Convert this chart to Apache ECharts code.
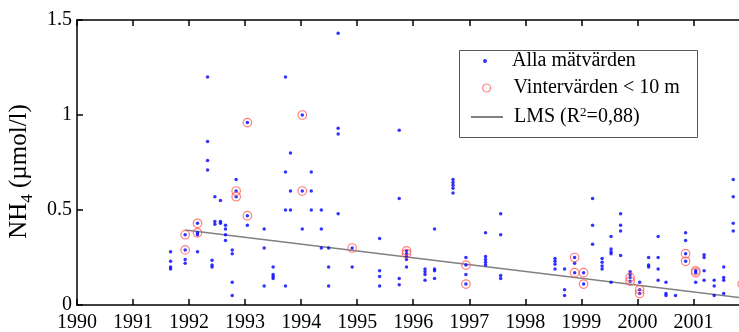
<!DOCTYPE html>
<html><head><meta charset="utf-8">
<script src="https://cdn.jsdelivr.net/npm/echarts@6/dist/echarts.min.js"></script>
<style>html,body{margin:0;padding:0;background:#fff}#c{width:739px;height:332px}</style>
</head><body><div id="c"></div>
<script>
// Sampling dates (decimal years) and all measured NH4 values at each date
const sampleYears = [1991.67,1991.93,1992.15,1992.33,1992.41,1992.46,1992.56,1992.65,1992.77,1992.84,
  1993.04,1993.34,1993.50,1993.72,1993.81,1994.02,1994.18,1994.36,1994.49,1994.66,1994.91,
  1995.40,1995.75,1995.88,1996.21,1996.38,1996.71,1996.94,1997.29,1997.56,
  1998.53,1998.70,1998.88,1999.04,1999.20,1999.37,1999.53,1999.70,1999.87,
  2000.04,2000.20,2000.37,2000.51,2000.68,2000.86,2001.04,2001.19,2001.37,2001.54,2001.71];
const sampleValues = [
  [0.28,0.23,0.20,0.19],[0.37,0.29,0.24,0.22],[0.43,0.38,0.37,0.28],[1.20,0.86,0.76,0.71],
  [0.235,0.21,0.20],[0.57,0.44,0.425],[0.55,0.44,0.43],[0.42,0.40,0.37,0.34],[0.29,0.27,0.12,0.05],
  [0.66,0.60,0.57],[0.96,0.47,0.42],[0.40,0.30,0.10],[0.20,0.16,0.15,0.14],[1.20,0.70,0.50,0.10],
  [0.80,0.60,0.50],[1.00,0.60,0.40],[0.70,0.60,0.50],[0.50,0.40,0.30],[0.30,0.20,0.10],
  [1.43,0.93,0.90,0.48],[0.30,0.20],
  [0.35,0.18,0.15,0.10],[0.92,0.56,0.14,0.107],[0.285,0.27,0.255,0.24,0.20],[0.19,0.175,0.16,0.13],
  [0.40,0.19,0.18,0.14],[0.66,0.645,0.63,0.615,0.59],[0.25,0.21,0.16,0.11],[0.38,0.255,0.24,0.225,0.21],
  [0.48,0.37,0.155,0.14],
  [0.245,0.23,0.215,0.19],[0.19,0.08,0.05],[0.25,0.22,0.17],[0.17,0.11],[0.56,0.42,0.32],
  [0.245,0.225,0.205,0.19],[0.36,0.295,0.28,0.27,0.12],[0.48,0.42,0.39,0.26],[0.175,0.16,0.145,0.125],
  [0.12,0.08,0.06],[0.25,0.21,0.20],[0.36,0.25,0.19,0.13],[0.12,0.06,0.05],[0.05],[0.38,0.34,0.27,0.23],
  [0.18,0.17,0.12],[0.265,0.25,0.18,0.13],[0.13,0.10,0.05],[0.20,0.145,0.13,0.06],[0.66,0.57,0.43,0.39]
];
// Winter values (< 10 m)
const winterYears = [1991.93,1992.15,1992.84,1993.04,1994.02,1994.91,1995.88,1996.94,1998.88,1999.04,1999.87,2000.04,2000.86,2001.04,2001.87];
const winterValues = [[0.37,0.29],[0.43,0.38],[0.60,0.57],[0.96,0.47],[1.00,0.60],[0.30],[0.285,0.27],[0.21,0.11],
  [0.25,0.17],[0.17,0.11],[0.145,0.125],[0.08,0.06],[0.27,0.23],[0.18,0.17],[0.11]];
// LMS trend line
const lmsYears = [1991.93, 2002];
const lmsValues = [0.395, 0.033];
// Axes
const xMin = 1990, xMax = 2002, xStep = 1;
const yMin = 0, yMax = 1.5, yStep = 0.5;
const seriesNames = ['Alla mätvärden', 'Vintervärden < 10 m', 'LMS (R²=0,88)'];

const allData = sampleYears.flatMap((yr, i) => sampleValues[i].map(v => [yr, v]));
const winterData = winterYears.flatMap((yr, i) => winterValues[i].map(v => [yr, v]));
const lmsData = lmsYears.map((yr, i) => [yr, lmsValues[i]]);

const FONT = 'Liberation Serif, Times New Roman, serif';
const axisLineStyle = {color: '#000', width: 1.5};
const RED = '#ff5c5c';

const chart = echarts.init(document.getElementById('c'));
chart.setOption({
  animation: false,
  backgroundColor: '#fff',
  grid: {left: 77, top: 20, width: 56.04 * (xMax - xMin), height: 285, containLabel: false, outerBoundsMode: 'none'},
  xAxis: [{
    type: 'value', min: xMin, max: xMax, interval: xStep, position: 'bottom',
    axisLine: {show: true, onZero: false, lineStyle: axisLineStyle},
    axisTick: {show: true, inside: true, length: 6, lineStyle: axisLineStyle},
    splitLine: {show: false},
    axisLabel: {color: '#000', fontFamily: FONT, fontSize: 20, margin: 8,
      formatter: v => (v >= xMax ? '' : String(v))}
  }, {
    type: 'value', min: xMin, max: xMax, interval: xStep, position: 'top',
    axisLine: {show: true, onZero: false, lineStyle: axisLineStyle},
    axisTick: {show: true, inside: true, length: 6, lineStyle: axisLineStyle},
    splitLine: {show: false}, axisLabel: {show: false}
  }],
  yAxis: [{
    type: 'value', min: yMin, max: yMax, interval: yStep,
    axisLine: {show: true, onZero: false, lineStyle: axisLineStyle},
    axisTick: {show: true, inside: true, length: 6, lineStyle: axisLineStyle},
    splitLine: {show: false},
    axisLabel: {color: '#000', fontFamily: FONT, fontSize: 20, margin: 5},
    name: '{m|NH}{s|4}{m| (µmol/l)}',
    nameLocation: 'middle', nameGap: 40,
    nameTextStyle: {
      padding: [0, 18, 0, 0],
      rich: {
        m: {fontFamily: FONT, fontSize: 25, lineHeight: 29, verticalAlign: 'top', color: '#000'},
        s: {fontFamily: FONT, fontSize: 17, lineHeight: 17, verticalAlign: 'bottom', color: '#000'}
      }
    }
  }],
  legend: [{
    left: 483, top: 50, padding: 0, itemWidth: 44, itemHeight: 4, selectedMode: false,
    data: [{name: seriesNames[0], icon: 'circle'}],
    textStyle: {fontFamily: FONT, fontSize: 20, lineHeight: 22, color: '#000', padding: [0, 0, 0, 0]}
  }, {
    left: 482, top: 77, padding: 0, itemWidth: 44, itemHeight: 8, selectedMode: false,
    data: [{name: seriesNames[1], icon: 'circle', itemStyle: {color: 'rgba(0,0,0,0)', borderColor: RED, borderWidth: 1.2}}],
    textStyle: {fontFamily: FONT, fontSize: 20, lineHeight: 22, color: '#000'}
  }, {
    left: 470, top: 106, padding: 0, itemWidth: 32, itemHeight: 10, selectedMode: false,
    data: [{name: seriesNames[2], itemStyle: {opacity: 0}}],
    formatter: () => '{a|LMS (R}{s|2}{a|=0,88)}',
    textStyle: {padding: [0, 0, 0, 6], color: '#000',
      rich: {
        a: {fontFamily: FONT, fontSize: 20, lineHeight: 22, verticalAlign: 'middle', color: '#000'},
        s: {fontFamily: FONT, fontSize: 13, lineHeight: 14, verticalAlign: 'top', color: '#000'}
      }}
  }],
  graphic: [{
    type: 'rect', z: 3, shape: {x: 459.5, y: 50.5, width: 238, height: 87},
    style: {fill: '#fff', stroke: '#555', lineWidth: 1}
  }],
  series: [{
    name: seriesNames[2], type: 'line', data: lmsData, symbol: 'none', z: 1,
    itemStyle: {color: '#808080'},
    lineStyle: {color: '#808080', width: 1.5}, silent: true
  }, {
    name: seriesNames[0], type: 'scatter', data: allData, symbol: 'circle', symbolSize: 3.5, z: 2,
    itemStyle: {color: '#0000ff'}, silent: true
  }, {
    name: seriesNames[1], type: 'scatter', data: winterData, symbol: 'circle', symbolSize: 8.5, z: 2,
    itemStyle: {color: 'rgba(0,0,0,0)', borderColor: RED, borderWidth: 1.2}, silent: true
  }]
});
</script>
</body></html>
